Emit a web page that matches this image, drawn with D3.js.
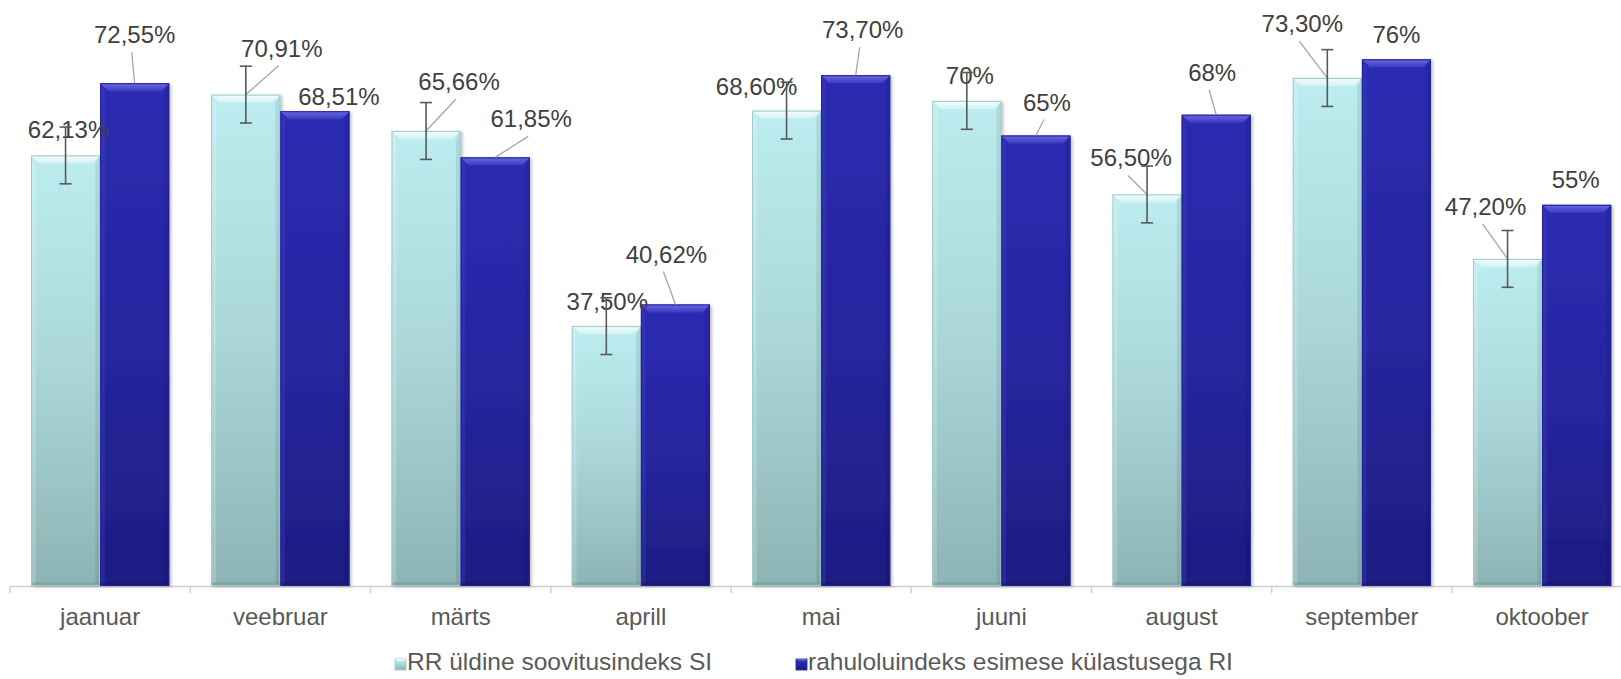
<!DOCTYPE html>
<html>
<head>
<meta charset="utf-8">
<script src="https://cdn.jsdelivr.net/npm/d3@7"></script>
<style>
  html, body { margin: 0; padding: 0; background: #ffffff; }
  svg { display: block; }
  text { font-family: "Liberation Sans", Arial, sans-serif; }
</style>
</head>
<body>
<svg id="chart" width="1621" height="679"></svg>
<script>
// Monthly indices
const months = ["jaanuar", "veebruar", "märts", "aprill", "mai", "juuni", "august", "september", "oktoober"];
const siValues = [62.13, 70.91, 65.66, 37.5, 68.6, 70, 56.5, 73.3, 47.2];
const riValues = [72.55, 68.51, 61.85, 40.62, 73.7, 65, 68, 76, 55];
const siError = 4.1;
const seriesNames = ["RR üldine soovitusindeks SI", "rahuloluindeks esimese külastusega RI"];

// Label placement relative to the top centre of each bar: [dx, dy to baseline]
const siLabelOffsets = [[3, -17], [36, -38], [33, -41], [1, -16], [-30, -16], [3, -17], [-16, -28], [-25, -46], [-22, -44]];
const riLabelOffsets = [[0, -40], [24, -6], [36, -30], [-9, -42], [7, -37], [11, -25], [-4, -34], [0, -16], [-1, -17]];

const fmt = v => Number.isInteger(v) ? v + "%" : v.toFixed(2).replace(".", ",") + "%";

const svg = d3.select("#chart");
const defs = svg.append("defs");

function grad(id, stops) {
  const g = defs.append("linearGradient").attr("id", id)
    .attr("x1", 0).attr("y1", 0).attr("x2", 0).attr("y2", 1);
  stops.forEach(([o, c]) => g.append("stop").attr("offset", o).attr("stop-color", c));
}
grad("lightBody", [[0, "#bdedf0"], [0.5, "#aad6d9"], [1, "#8db4b4"]]);
grad("darkBody", [[0, "#2b2bb2"], [0.5, "#2626a0"], [1, "#1d1d82"]]);
grad("lightTop", [[0, "#f4fcfc"], [1, "#d2f3f4"]]);
grad("darkTop", [[0, "#6a6ae0"], [1, "#3a3ac4"]]);

const shadow = defs.append("filter").attr("id", "shadow")
  .attr("x", "-10%").attr("y", "-10%").attr("width", "130%").attr("height", "130%");
shadow.append("feDropShadow").attr("dx", 2).attr("dy", 1).attr("stdDeviation", 1.5)
  .attr("flood-color", "#000").attr("flood-opacity", 0.25);

const baseY = 586;
const x0 = d3.scaleBand().domain(months).range([10, 10 + 180.25 * 9]).paddingInner(0).paddingOuter(0);
const x1 = d3.scaleBand().domain(["si", "ri"]).range([21, x0.bandwidth() - 21]).padding(0);
const y = d3.scaleLinear().domain([0, 100]).range([baseY, baseY - 693]);

// Axis line with category ticks between groups
const axisG = svg.append("g").attr("transform", `translate(0,${baseY})`);
axisG.append("line").attr("x1", 10).attr("x2", 1621).attr("y1", 0.5).attr("y2", 0.5)
  .attr("stroke", "#d0d0d0").attr("stroke-width", 1.5);
axisG.selectAll("line.tick").data(d3.range(months.length + 1)).join("line")
  .attr("class", "tick")
  .attr("x1", i => 10 + i * x0.bandwidth()).attr("x2", i => 10 + i * x0.bandwidth())
  .attr("y1", 0).attr("y2", 7).attr("stroke", "#d0d0d0").attr("stroke-width", 1.5);

const xAxis = d3.axisBottom(x0).tickSize(0).tickPadding(0);
const xg = svg.append("g").attr("transform", `translate(0,${baseY})`).call(xAxis);
xg.select(".domain").remove();
xg.selectAll("text").attr("y", 39).attr("dy", 0)
  .attr("font-size", 24).attr("fill", "#595959")
  .style("font-family", "'Liberation Sans', Arial, sans-serif");

// Beveled bar
function drawBar(g, x, w, v, kind) {
  const top = y(v), h = baseY - top, b = 8;
  const bg = g.append("g");
  bg.append("rect").attr("x", x).attr("y", top).attr("width", w).attr("height", h)
    .attr("fill", kind === "si" ? "url(#lightBody)" : "url(#darkBody)")
    .attr("filter", "url(#shadow)");
  // side bevels
  bg.append("polygon")
    .attr("points", [[x, top], [x + b * 0.6, top + b], [x + b * 0.6, baseY - 4], [x, baseY]].join(" "))
    .attr("fill", kind === "si" ? "#ffffff" : "#4a4ad0").attr("opacity", kind === "si" ? 0.18 : 0.25);
  bg.append("polygon")
    .attr("points", [[x + w, top], [x + w - b * 0.6, top + b], [x + w - b * 0.6, baseY - 4], [x + w, baseY]].join(" "))
    .attr("fill", "#000").attr("opacity", 0.08);
  // bottom bevel
  bg.append("rect").attr("x", x).attr("y", baseY - 4).attr("width", w).attr("height", 4)
    .attr("fill", "#000").attr("opacity", 0.08);
  // top bevel
  bg.append("polygon")
    .attr("points", [[x, top], [x + w, top], [x + w - b, top + b], [x + b, top + b]].join(" "))
    .attr("fill", kind === "si" ? "url(#lightTop)" : "url(#darkTop)");
  bg.append("rect").attr("x", x + 0.5).attr("y", top + 0.5).attr("width", w - 1).attr("height", h - 1)
    .attr("fill", "none").attr("stroke", kind === "si" ? "#9fcaca" : "#22229a").attr("stroke-width", 1);
}

const groups = svg.append("g");
months.forEach((m, i) => {
  const gx = x0(m);
  drawBar(groups, gx + x1("si"), x1.bandwidth(), siValues[i], "si");
  drawBar(groups, gx + x1("ri"), x1.bandwidth(), riValues[i], "ri");
});

// Data labels with leader lines
const labelG = svg.append("g");
function addLabel(i, v, kind, off) {
  const cx = x0(months[i]) + x1(kind) + x1.bandwidth() / 2;
  const top = y(v);
  const lx = cx + off[0], ly = top + off[1];
  if (off[1] < -20) {
    labelG.append("line")
      .attr("x1", lx - 3).attr("y1", ly + 9).attr("x2", cx).attr("y2", top)
      .attr("stroke", "#a6a6a6").attr("stroke-width", 1.3);
  }
  labelG.append("text").attr("x", lx).attr("y", ly)
    .attr("text-anchor", "middle").attr("font-size", 24).attr("fill", "#404040")
    .text(fmt(v));
}
months.forEach((m, i) => {
  addLabel(i, siValues[i], "si", siLabelOffsets[i]);
  addLabel(i, riValues[i], "ri", riLabelOffsets[i]);
});

// Error bars on SI
const errG = svg.append("g").attr("stroke", "#595959").attr("stroke-width", 1.6);
months.forEach((m, i) => {
  const cx = x0(m) + x1("si") + x1.bandwidth() / 2;
  const hi = y(siValues[i] + siError), lo = y(siValues[i] - siError);
  errG.append("line").attr("x1", cx).attr("x2", cx).attr("y1", hi).attr("y2", lo);
  errG.append("line").attr("x1", cx - 6).attr("x2", cx + 6).attr("y1", hi).attr("y2", hi);
  errG.append("line").attr("x1", cx - 6).attr("x2", cx + 6).attr("y1", lo).attr("y2", lo);
});

// Legend
const legend = svg.append("g");
const legendItems = [
  { name: seriesNames[0], kind: "si", x: 395 },
  { name: seriesNames[1], kind: "ri", x: 796 }
];
legendItems.forEach(it => {
  const g = legend.append("g").attr("transform", `translate(${it.x},659)`);
  g.append("rect").attr("width", 11).attr("height", 11)
    .attr("fill", it.kind === "si" ? "url(#lightBody)" : "url(#darkBody)")
    .attr("stroke", it.kind === "si" ? "#9fcaca" : "#22229a").attr("stroke-width", 0.8);
  g.append("polygon").attr("points", "0,0 11,0 8.5,2.5 2.5,2.5")
    .attr("fill", it.kind === "si" ? "url(#lightTop)" : "url(#darkTop)");
  g.append("text").attr("x", 12).attr("y", 11).attr("font-size", 24.5).attr("fill", "#595959")
    .text(it.name);
});
</script>
</body>
</html>
